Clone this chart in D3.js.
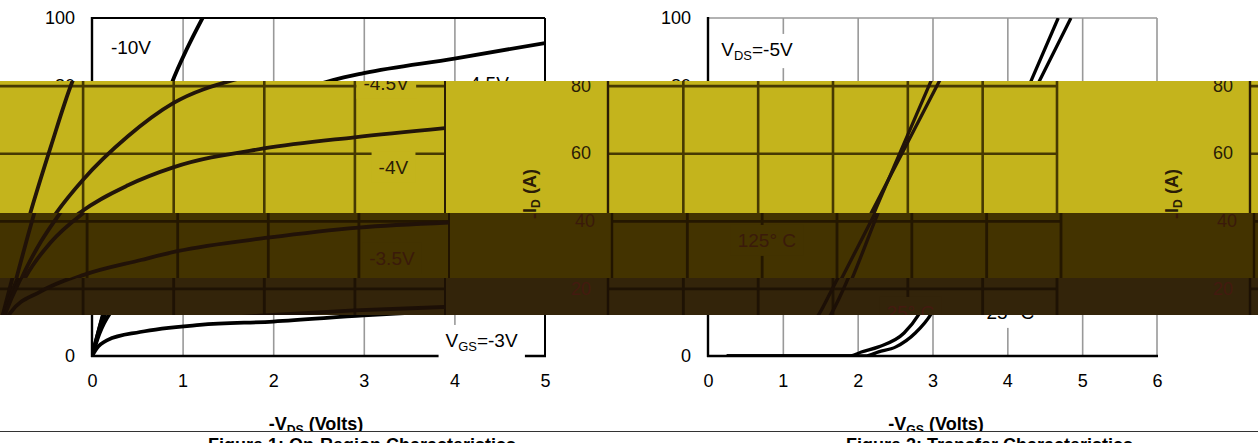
<!DOCTYPE html>
<html>
<head>
<meta charset="utf-8">
<script src="https://cdn.jsdelivr.net/npm/d3@7/dist/d3.min.js"></script>
<style>
  body { margin: 0; background: #fff; }
  svg { display: block; }
</style>
</head>
<body>
<div id="chart"></div>
<script>
// Figure 1: on-region characteristics, points are [-VDS (V), -ID (A)]
var outLabels = ['-10V', '-4.5V', '-4V', '-3.5V', 'V_GS=-3V'];
var vgs10 = [[0, 0], [0.2, 20.5], [0.42, 42], [0.65, 62], [0.88, 80.7], [1.05, 91], [1.22, 100]];
var vgs45 = [[0, 0], [0.1, 10], [0.3, 24], [0.5, 34], [0.7, 42], [1.0, 52], [1.5, 65], [2.0, 74.8], [2.66, 81.6], [3, 83.7], [4, 88], [5, 92.6]];
var vgs40 = [[0, 0], [0.1, 9], [0.3, 22], [0.6, 33.5], [0.95, 42], [1.5, 50.5], [2, 55.8], [3, 61.4], [4, 64.7], [5, 67.4]];
var vgs35 = [[0, 0], [0.08, 6.5], [0.2, 12.7], [0.53, 19], [0.97, 24], [1.6, 28.4], [2, 31], [3, 35], [4, 38], [5, 39.5]];
var vgs30 = [[0, 0], [0.05, 2.2], [0.17, 4.7], [0.53, 7.1], [1.19, 9.2], [2, 10.2], [3, 12], [4, 13.5], [5, 14.5]];

// Figure 2: transfer characteristics, points are [-VGS (V), -ID (A)]
var transLabels = ['V_DS=-5V', '125° C', '25° C'];
var t125 = [[0.25, 0], [1.9, 0], [2.05, 1.2], [2.28, 2.7], [2.62, 6.8], [2.82, 12.4], [3.0, 20], [3.51, 42], [3.93, 60], [4.42, 81], [4.85, 100]];
var t25 = [[0.25, 0], [2.1, 0], [2.28, 1.2], [2.51, 2.7], [2.77, 6.8], [2.98, 12.4], [3.15, 20], [3.55, 42], [3.9, 60], [4.31, 81], [4.68, 100]];

var idTicks = [0, 20, 40, 60, 80, 100];
var vdsTicks = [0, 1, 2, 3, 4, 5];
var vgsTicks = [0, 1, 2, 3, 4, 5, 6];

var W = 1258, H = 443;
var FONT = '"Liberation Sans", Arial, sans-serif';

var svg = d3.select('#chart').append('svg')
    .attr('width', W)
    .attr('height', H)
    .attr('font-family', FONT);

var defs = svg.append('defs');

var panels = [
    {
        x0: 92, x1: 545, xmax: 5, ticks: vdsTicks, frameTop: 'frame', curveW: 3.8,
        curves: [vgs10, vgs45, vgs40, vgs35, vgs30],
        labels: outLabels,
        // label anchors in data units
        anchors: [[0.43, 91.4], [4.35, 80.8], [4.43, 55.9], [4.37, 29], [4.3, 4.7]],
        xTitle: ['-V', 'DS', ' (Volts)'], xTitleX: 316,
        caption: 'Figure 1: On-Region Characteristics', captionX: 208
    },
    {
        x0: 708, x1: 1157, xmax: 6, ticks: vgsTicks, frameTop: 'grid', curveW: 3.3,
        curves: [t125, t25],
        labels: transLabels,
        anchors: [[0.655, 90.8], [2.07, 34.3], [4.04, 13]],
        xTitle: ['-V', 'GS', ' (Volts)'], xTitleX: 936,
        caption: 'Figure 2: Transfer Characteristics', captionX: 846
    }
];

var yTop = 18, yBottom = 356;

panels.forEach(function (p, k) {
    defs.append('clipPath').attr('id', 'plot' + k)
        .append('rect')
        .attr('x', p.x0).attr('y', yTop)
        .attr('width', p.x1 - p.x0).attr('height', yBottom - yTop);
});

var normal = {bg: '#ffffff', grid: '#999999', gridW: 1.6, frame: '#000000', curve: '#000000', text: '#000000'};

// strips of the page that are shifted sideways and tinted
var bands = [
    {y0: 81, y1: 213, dx: -100, pal: {bg: '#c4b41c', grid: '#463902', gridW: 2.6, frame: '#2a1c04', curve: '#22150a', text: '#2a1c06'}},
    {y0: 213, y1: 278, dx: -96, pal: {bg: '#433300', grid: '#241700', gridW: 2.8, frame: '#211400', curve: '#211208', text: '#3a1a0a'}},
    {y0: 278, y1: 315, dx: -100, pal: {bg: '#33240a', grid: '#1e1204', gridW: 2.8, frame: '#1c1004', curve: '#1c0f06', text: '#441a10'}}
];

drawScene(svg.append('g'), normal, false);

bands.forEach(function (b, k) {
    defs.append('clipPath').attr('id', 'band' + k)
        .append('rect')
        .attr('x', 0).attr('y', b.y0)
        .attr('width', W).attr('height', b.y1 - b.y0);
    var g = svg.append('g').attr('clip-path', 'url(#band' + k + ')');
    g.append('rect').attr('x', 0).attr('y', b.y0).attr('width', W).attr('height', b.y1 - b.y0)
        .attr('fill', b.pal.bg);
    [b.dx, b.dx + W].forEach(function (dx) {
        drawScene(g.append('g').attr('transform', 'translate(' + dx + ',0)'), b.pal, true);
    });
});

function drawScene(g, pal, inBand) {
    panels.forEach(function (p, k) {
        drawPanel(g, pal, p, k, inBand);
    });
    if (inBand) return;

    g.append('rect').attr('x', 0).attr('y', 432).attr('width', W).attr('height', 6).attr('fill', pal.bg);
    g.append('line')
        .attr('x1', 0).attr('x2', W).attr('y1', 431.5).attr('y2', 431.5)
        .attr('stroke', '#333').attr('stroke-width', 1.2);

    panels.forEach(function (p) {
        g.append('text')
            .attr('x', p.captionX).attr('y', 451)
            .attr('font-size', 18).attr('font-weight', 'bold')
            .attr('fill', pal.text)
            .text(p.caption);
    });
}

function subText(sel, parts, size) {
    sel.append('tspan').text(parts[0]);
    sel.append('tspan').attr('font-size', size * 0.68).attr('dy', size * 0.22).text(parts[1]);
    sel.append('tspan').attr('dy', -size * 0.22).text(parts[2]);
}

function drawPanel(g, pal, p, k, inBand) {
    var x = d3.scaleLinear().domain([0, p.xmax]).range([p.x0, p.x1]);
    var y = d3.scaleLinear().domain([0, 100]).range([yBottom, yTop]);

    // grid
    var gx = g.append('g')
        .attr('transform', 'translate(0,' + yBottom + ')')
        .call(d3.axisBottom(x).tickValues(p.ticks.slice(1, -1)).tickSize(-(yBottom - yTop)).tickFormat(''));
    var gy = g.append('g')
        .attr('transform', 'translate(' + p.x0 + ',0)')
        .call(d3.axisLeft(y).tickValues(idTicks.slice(1, -1)).tickSize(-(p.x1 - p.x0)).tickFormat(''));
    [gx, gy].forEach(function (a) {
        a.select('.domain').remove();
        a.selectAll('.tick line').attr('stroke', pal.grid).attr('stroke-width', pal.gridW);
    });

    // frame
    var top = pal[p.frameTop];
    var topW = p.frameTop === 'frame' ? 2 : pal.gridW;
    g.append('line').attr('x1', p.x0).attr('x2', p.x1).attr('y1', yTop).attr('y2', yTop)
        .attr('stroke', top).attr('stroke-width', topW);
    g.append('line').attr('x1', p.x1).attr('x2', p.x1).attr('y1', yTop).attr('y2', yBottom)
        .attr('stroke', top).attr('stroke-width', topW);
    g.append('line').attr('x1', p.x0).attr('x2', p.x0).attr('y1', yTop - 1).attr('y2', yBottom + 1)
        .attr('stroke', pal.frame).attr('stroke-width', 2.4);
    g.append('line').attr('x1', p.x0 - 1).attr('x2', p.x1 + 1).attr('y1', yBottom).attr('y2', yBottom)
        .attr('stroke', pal.frame).attr('stroke-width', 2.4);

    // curves
    var line = d3.line()
        .x(function (d) { return x(d[0]); })
        .y(function (d) { return y(d[1]); })
        .curve(d3.curveMonotoneX);
    g.append('g').attr('clip-path', 'url(#plot' + k + ')')
        .selectAll('path')
        .data(p.curves)
        .enter().append('path')
        .attr('d', line)
        .attr('fill', 'none')
        .attr('stroke', pal.curve)
        .attr('stroke-width', p.curveW)
        .attr('stroke-linejoin', 'round');

    // annotations with boxes that hide the grid
    p.labels.forEach(function (lab, i) {
        var a = p.anchors[i];
        var lg = g.append('g');
        var box = lg.append('rect').attr('fill', pal.bg);
        var t = lg.append('text')
            .attr('x', x(a[0])).attr('y', y(a[1]))
            .attr('dy', '0.36em')
            .attr('text-anchor', 'middle')
            .attr('font-size', 19)
            .attr('fill', pal.text);
        var m = lab.match(/^(\w)_(\w+)(.*)$/);
        if (m) {
            subText(t, [m[1], m[2], m[3]], 19);
        } else {
            t.text(lab);
        }
        var bb = t.node().getBBox();
        box.attr('x', bb.x - 7).attr('y', bb.y - 5).attr('width', bb.width + 14).attr('height', bb.height + 10);
    });

    // tick labels
    var ay = g.append('g')
        .attr('transform', 'translate(' + p.x0 + ',0)')
        .call(d3.axisLeft(y).tickValues(idTicks).tickSize(0).tickPadding(17));
    var axes = [ay];
    if (!inBand) {
        axes.push(g.append('g')
            .attr('transform', 'translate(0,' + yBottom + ')')
            .call(d3.axisBottom(x).tickValues(p.ticks).tickFormat(d3.format('d')).tickSize(0).tickPadding(18)));
    }
    axes.forEach(function (a) {
        a.attr('font-family', FONT).attr('font-size', 18);
        a.select('.domain').remove();
        a.selectAll('.tick line').remove();
        a.selectAll('.tick text').attr('fill', pal.text);
    });

    // axis titles
    var yt = g.append('text')
        .attr('transform', 'translate(' + (p.x0 - 78) + ',194) rotate(-90)')
        .attr('text-anchor', 'middle')
        .attr('dy', '0.36em')
        .attr('font-size', 18).attr('font-weight', 'bold')
        .attr('fill', pal.text);
    subText(yt, ['-I', 'D', ' (A)'], 18);

    if (!inBand) {
        var xt = g.append('text')
            .attr('x', p.xTitleX).attr('y', 430)
            .attr('text-anchor', 'middle')
            .attr('font-size', 18).attr('font-weight', 'bold')
            .attr('fill', pal.text);
        subText(xt, p.xTitle, 18);
    }
}
</script>
</body>
</html>
